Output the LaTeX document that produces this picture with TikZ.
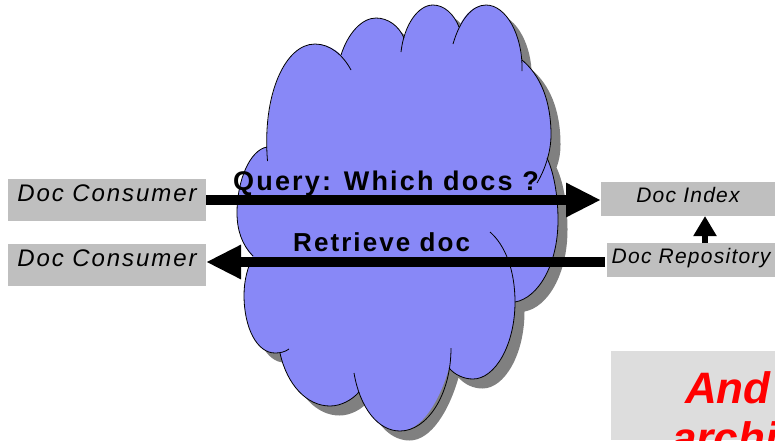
\documentclass[tikz,border=0pt]{standalone}
\usepackage{fontspec}
\setmainfont{Liberation Sans}
\newfontfamily\spacedmid[LetterSpace=8]{Liberation Sans}
\newfontfamily\spacedsmall[LetterSpace=6]{Liberation Sans}
\usetikzlibrary{arrows.meta}
\definecolor{cloudfill}{HTML}{8888F7}
\definecolor{shadowgray}{HTML}{808080}
\definecolor{boxgray}{HTML}{BFBFBF}
\definecolor{notegray}{HTML}{DDDDDD}
\newcommand{\cloudsil}{
  (267,147) .. controls (266,90) and (286,44) .. (315,44) .. controls (325,44) and (334,48) .. (341,55)
  .. controls (348,33) and (362,18) .. (376,18) .. controls (388,18) and (399,26) .. (404,38)
  .. controls (410,17) and (421,5) .. (433,5) .. controls (444,5) and (454,14) .. (459,27)
  .. controls (465,13) and (475,5) .. (486,5) .. controls (504,5) and (520,30) .. (522,60)
  .. controls (540,75) and (551,100) .. (551,135) .. controls (551,143) and (550,150) .. (547,158)
  .. controls (555,175) and (558,200) .. (558,220) .. controls (558,265) and (538,298) .. (515,302)
  .. controls (515,345) and (495,379) .. (473,379) .. controls (464,379) and (455,375) .. (449,368)
  .. controls (440,400) and (422,431) .. (400,431) .. controls (383,431) and (367,417) .. (359,392)
  .. controls (352,400) and (341,406) .. (330,406) .. controls (307,406) and (287,385) .. (280,353)
  .. controls (278,353) and (277,353) .. (275,353) .. controls (257,353) and (244,328) .. (244,295)
  .. controls (244,280) and (248,266) .. (253,257)
  .. controls (242,245) and (237,230) .. (237,213) .. controls (237,180) and (250,150) .. (267,147) -- cycle}
\tikzset{
  x=1pt,y=-1pt,
  lobe/.style={draw=black,line width=0.8pt},
  boxnode/.style={fill=boxgray,inner sep=0pt,outer sep=0pt,anchor=north west,font=\spacedsmall\itshape},
  consumerbox/.style={boxnode,minimum width=198pt,text height=22pt,text depth=20pt,font=\spacedmid\itshape\fontsize{24}{28}\selectfont},
  fatarrow/.style={line width=10pt,-{Triangle[length=35pt,width=32pt]}},
  smallarrow/.style={line width=6pt,-{Triangle[length=20pt,width=22pt]}},
  arrowlabel/.style={anchor=base west,inner sep=0pt,font=\spacedmid\bfseries},
  redtext/.style={anchor=base west,inner sep=0pt,text=red,font=\bfseries\itshape\fontsize{44}{50}\selectfont}
}
\begin{document}
\begin{tikzpicture}
\useasboundingbox (0,0) rectangle (775,440);
\clip (0,0) rectangle (775,440);
% cloud
\fill[shadowgray,shift={(9.5,9.5)}] \cloudsil;
\fill[cloudfill] \cloudsil;
\draw[lobe] (267.5,161) .. controls (262,95) and (285,44) .. (315,44) .. controls (330,44) and (343,55) .. (351,70);
\draw[lobe] (341,55) .. controls (348,33) and (362,18) .. (376,18) .. controls (388,18) and (399,26) .. (404,38);
\draw[lobe] (401,52) .. controls (404,25) and (418,5) .. (433,5) .. controls (444,5) and (454,14) .. (459,27);
\draw[lobe] (453,44) .. controls (460,20) and (472,5) .. (486,5) .. controls (506,5) and (523,35) .. (522,71);
\draw[lobe] (522,60) .. controls (540,75) and (551,100) .. (551,135) .. controls (551,150) and (546,168) .. (537,183);
\draw[lobe] (547,158) .. controls (555,175) and (558,200) .. (558,220) .. controls (558,265) and (538,298) .. (515,302);
\draw[lobe] (490,232) .. controls (505,245) and (515,270) .. (515,302) .. controls (515,345) and (495,379) .. (473,379) .. controls (464,379) and (455,375) .. (449,368);
\draw[lobe] (451,348) .. controls (451,395) and (427,431) .. (400,431) .. controls (378,431) and (360,408) .. (354,373);
\draw[lobe] (359,392) .. controls (352,400) and (341,406) .. (330,406) .. controls (307,406) and (287,385) .. (280,353);
\draw[lobe] (289,349) .. controls (285,352) and (280,353) .. (275,353) .. controls (257,353) and (244,328) .. (244,295) .. controls (244,280) and (248,266) .. (253,257);
\draw[lobe] (253,256) .. controls (242,245) and (237,230) .. (237,213) .. controls (237,180) and (250,150) .. (267,147);
% boxes
\node[consumerbox] (consumerA) at (8,179) {Doc Consumer};
\node[consumerbox] (consumerB) at (8,244) {Doc Consumer};
\node[boxnode,minimum width=174pt,text height=20pt,text depth=14pt] (docindex) at (601,182) {\fontsize{21}{25}\selectfont Doc Index};
\node[boxnode,minimum width=168pt,text height=20pt,text depth=14pt] (docrepo) at (607,243) {\fontsize{21}{25}\selectfont Doc Repository};
\node[fill=notegray,inner sep=0pt,outer sep=0pt,anchor=north west,minimum width=164pt,minimum height=89pt] (note) at (611,351) {};
% connectors
\draw[fatarrow] (consumerA.east) -- (consumerA.east -| docindex.west);
\draw[fatarrow] ([shift={(-2,2)}]docrepo.west) -- ([shift={(0,-3)}]consumerB.east);
\draw[smallarrow] (docrepo.north -| 705,0) -- (docindex.south -| 705,0);
% labels
\node[arrowlabel] (querylabel) at (233,190) {\fontsize{27}{30}\selectfont Query: Which docs ?};
\node[arrowlabel] (retrievelabel) at (293,251) {\fontsize{26}{30}\selectfont Retrieve doc};
\node[redtext] (notea) at (685,403) {And};
\node[redtext] (noteb) at (672,453) {archi};
\end{tikzpicture}
\end{document}
